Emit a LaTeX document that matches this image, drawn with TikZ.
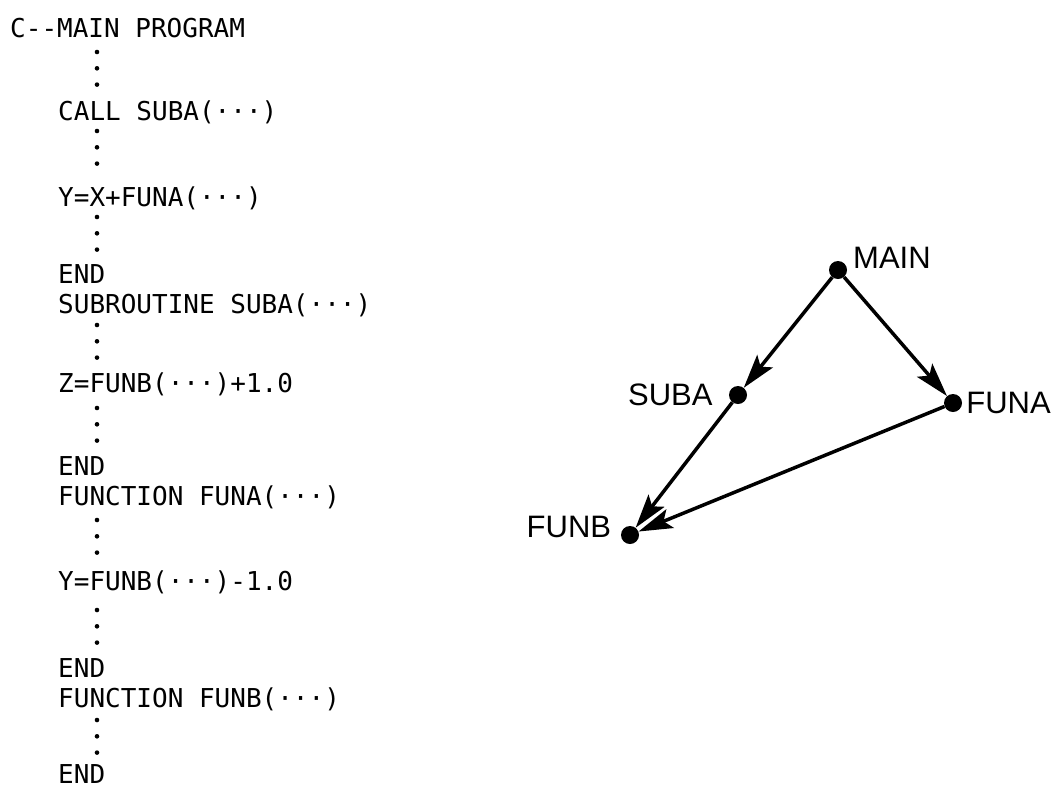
\documentclass[tikz,border=0pt]{standalone}
\usepackage{fontspec}
\setmainfont{Liberation Sans}
\newfontfamily\codefont{DejaVu Sans Mono}
\usetikzlibrary{arrows.meta, positioning}

\begin{document}
\begin{tikzpicture}[x=1pt, y=-1pt,
      code/.style={anchor=base west, inner sep=0pt,
                   font=\codefont\fontsize{26}{30}\selectfont},
      callnode/.style={circle, fill=black, minimum size=18pt, inner sep=0pt},
      lbl/.style={inner sep=0pt, font=\fontsize{31}{36}\selectfont},
      arr/.style={-{Stealth[length=34pt, width=20pt, inset=7pt]}, line width=3.5pt},
      node distance=9pt
    ]
    \useasboundingbox (0,0) rectangle (1060,788);

    % program listing
    \node[code] (head) at (10,37) {C--MAIN PROGRAM};
    \foreach \y/\txt [count=\i] in {120/CALL SUBA(···), 206/Y=X+FUNA(···),
        283/END, 313/SUBROUTINE SUBA(···), 392/Z=FUNB(···)+1.0, 475/END,
        505/FUNCTION FUNA(···), 590/Y=FUNB(···)-1.0, 677/END,
        707/FUNCTION FUNB(···), 783/END}
      \node[code] (line\i) at (58,\y) {\txt};

    % vertical ellipses
    \foreach \y in {52,131,217,325,408,520,610,720}
      \foreach \k in {0,1,2}
        \fill (97,\y+16.3*\k) circle (2.3pt);

    % call graph
    \node[callnode] (main) at (838,270) {};
    \node[callnode] (suba) at (738,395) {};
    \node[callnode] (funa) at (953,403) {};
    \node[callnode] (funb) at (630,535) {};

    \node[lbl, above right=-5pt and 8.5pt of main] (mainlbl) {MAIN};
    \node[lbl, left=16pt of suba] (subalbl) {SUBA};
    \node[lbl, right=4pt of funa] (funalbl) {FUNA};
    \node[lbl, left=9.5pt of funb, yshift=8pt] (funblbl) {FUNB};

    \draw[arr] (main) -- (suba);
    \draw[arr] (main) -- (funa);
    \draw[arr] (suba) -- (funb);
    \draw[arr] (funa) -- (funb);
  \end{tikzpicture}
\end{document}
